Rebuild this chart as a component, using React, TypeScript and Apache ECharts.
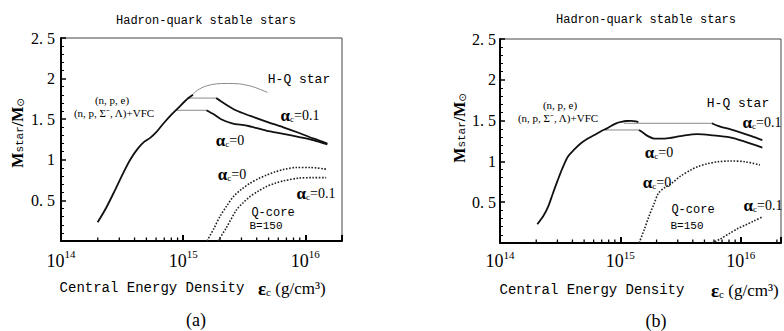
import React, { useEffect, useRef } from "react";
import * as echarts from "echarts";

// x values are log10(εc / g cm^-3), y values are M_star / M_sun
const xMajorExps = [14, 15, 16];
const minorFactors = [2, 3, 4, 5, 6, 7, 8, 9];
const yTicks = [0, 0.5, 1, 1.5, 2, 2.5];

// ---- panel (a) ----
const hadronA = [[14.30,0.23],[14.37,0.41],[14.44,0.62],[14.51,0.84],[14.57,1.01],[14.63,1.14],[14.68,1.22],[14.73,1.27],[14.78,1.34],[14.84,1.45],[14.90,1.55],[14.96,1.64],[15.02,1.73],[15.08,1.80]];
const hqA = [[15.06,1.78],[15.12,1.86],[15.19,1.91],[15.27,1.935],[15.36,1.94],[15.46,1.935],[15.57,1.90],[15.69,1.83]];
const plateau01A = [[15.035,1.76],[15.27,1.76]];
const branch01A = [[15.27,1.76],[15.34,1.69],[15.43,1.61],[15.55,1.54],[15.68,1.47],[15.82,1.40],[15.95,1.33],[16.07,1.26],[16.18,1.20]];
const plateau0A = [[14.94,1.61],[15.19,1.61]];
const branch0A = [[15.19,1.61],[15.25,1.56],[15.31,1.50],[15.40,1.45],[15.52,1.42],[15.68,1.36],[15.82,1.32],[15.95,1.28],[16.07,1.24],[16.18,1.19]];
const qcore0A = [[15.195,0],[15.25,0.15],[15.30,0.30],[15.36,0.44],[15.41,0.545],[15.48,0.64],[15.545,0.71],[15.62,0.77],[15.68,0.81],[15.75,0.85],[15.82,0.88],[15.925,0.905],[16.04,0.905],[16.17,0.885]];
const qcore01A = [[15.285,0],[15.35,0.155],[15.435,0.38],[15.49,0.47],[15.545,0.545],[15.61,0.61],[15.68,0.67],[15.75,0.71],[15.82,0.74],[15.95,0.775],[16.06,0.78],[16.17,0.78]];

// ---- panel (b) ----
const hadronB = [[14.31,0.23],[14.36,0.33],[14.40,0.445],[14.44,0.61],[14.48,0.77],[14.52,0.92],[14.565,1.06],[14.62,1.15],[14.67,1.22],[14.73,1.28],[14.78,1.32],[14.84,1.37],[14.89,1.405],[14.93,1.44],[14.97,1.47],[15.01,1.485],[15.05,1.495],[15.09,1.497],[15.13,1.49],[15.15,1.48]];
const plateau01B = [[15.03,1.467],[15.76,1.467]];
const branch01B = [[15.76,1.467],[15.83,1.425],[15.91,1.395],[15.99,1.36],[16.09,1.31],[16.18,1.26]];
const plateau0B = [[14.87,1.385],[15.155,1.385]];
const branch0B = [[15.155,1.385],[15.19,1.35],[15.23,1.31],[15.28,1.28],[15.37,1.28],[15.50,1.31],[15.64,1.335],[15.77,1.32],[15.91,1.295],[16.04,1.24],[16.18,1.17]];
const qcore0B = [[15.156,0],[15.20,0.17],[15.236,0.32],[15.28,0.48],[15.317,0.61],[15.37,0.68],[15.425,0.73],[15.50,0.82],[15.586,0.895],[15.65,0.94],[15.72,0.97],[15.81,0.995],[15.91,1.005],[16.04,0.995],[16.16,0.955]];
const qcore01B = [[15.76,0],[15.83,0.05],[15.91,0.12],[15.98,0.18],[16.04,0.22],[16.11,0.27],[16.18,0.32]];

const X_MAX_A = 16.3;
const X_MAX_B = 16.335;

const SERIF = "Liberation Serif";
const MONO = "Liberation Mono";

function minorTickData(max: number) {
  const out: number[][] = [];
  xMajorExps.forEach((d) => minorFactors.forEach((k) => {
    const v = d + Math.log10(k);
    if (v < max) out.push([v, 0]);
  }));
  return out;
}

function xAxisFor(gridIndex: number, max: number, margin: number) {
  return {
    type: "value", gridIndex, min: 14, max, interval: 1,
    axisLine: { show: true, onZero: false, lineStyle: { color: "#000", width: 2 } },
    axisTick: { show: true, inside: true, length: 6, lineStyle: { color: "#000", width: 2 } },
    splitLine: { show: false },
    axisLabel: {
      margin, color: "#000",
      formatter: (v: number) => (xMajorExps.includes(v) ? `{b|10}{s|${v}}` : ""),
      rich: {
        b: { fontFamily: SERIF, fontSize: 18, lineHeight: 18, padding: [6, 0, 0, 0], color: "#000" },
        s: { fontFamily: SERIF, fontSize: 11, lineHeight: 11, verticalAlign: "top", color: "#000" },
      },
    },
  };
}

function yAxisFor(gridIndex: number, margin: number) {
  return {
    type: "value", gridIndex, min: 0, max: 2.5, interval: 0.5,
    axisLine: { show: true, onZero: false, lineStyle: { color: "#000", width: 2 } },
    axisTick: { show: true, inside: true, length: 5, lineStyle: { color: "#000", width: 1.5 } },
    minorTick: { show: true, splitNumber: 5, length: 3, lineStyle: { color: "#000", width: 1 } },
    splitLine: { show: false },
    axisLabel: {
      margin, color: "#000", fontFamily: SERIF, fontSize: 16,
      formatter: (v: number) => {
        if (!yTicks.includes(v) || v === 0) return "";
        return Number.isInteger(v) ? String(v) : v.toFixed(1).replace(".", ". ");
      },
    },
  };
}

const thick = { color: "#111", width: 1.8 };
const thin = { color: "#8a8a8a", width: 1 };
const dotted = { color: "#222", width: 1.6, type: "dotted" };

function line(data: number[][], idx: number, style: any, smooth = 0.3) {
  return {
    type: "line", xAxisIndex: idx, yAxisIndex: idx, data, symbol: "none", showSymbol: false,
    smooth, lineStyle: style, silent: true,
  };
}

function minorTicks(idx: number, max: number) {
  return {
    type: "custom", xAxisIndex: idx, yAxisIndex: idx, data: minorTickData(max), clip: false, silent: true,
    renderItem: (_p: any, api: any) => {
      const pt = api.coord([api.value(0), 0]);
      return { type: "line", shape: { x1: pt[0], y1: pt[1], x2: pt[0], y2: pt[1] - 3.5 }, style: { stroke: "#000", lineWidth: 1.3 } };
    },
  };
}

function txt(text: string, x: number, y: number, fontFamily: string, fontSize: number, extra: any = {}) {
  return { type: "text", x, y, silent: true, style: { text, fontFamily, fontSize, fill: "#000", align: "center", verticalAlign: "middle", ...extra } };
}

function alpha(val: string, x: number, y: number) {
  return {
    type: "text", x, y, silent: true,
    style: {
      text: `{a|α}{c|c}{v|=${val}}`, align: "center", verticalAlign: "middle", fill: "#000",
      rich: {
        a: { fontFamily: SERIF, fontSize: 17, fontWeight: "bold", lineHeight: 16, fill: "#000" },
        c: { fontFamily: SERIF, fontSize: 9, lineHeight: 9, verticalAlign: "bottom", fill: "#000" },
        v: { fontFamily: SERIF, fontSize: 14, lineHeight: 16, fill: "#000" },
      },
    },
  };
}

function yName(x: number, y: number) {
  return {
    type: "text", x, y, rotation: Math.PI / 2, silent: true,
    style: {
      text: "{m|M}{s|star}{m|/M}{o|⊙}", align: "center", verticalAlign: "middle", fill: "#000",
      rich: {
        m: { fontFamily: SERIF, fontSize: 16, fontWeight: "bold", lineHeight: 16, fill: "#000" },
        s: { fontFamily: MONO, fontSize: 11, lineHeight: 10, verticalAlign: "bottom", fill: "#000" },
        o: { fontFamily: "DejaVu Sans", fontSize: 10, lineHeight: 10, verticalAlign: "bottom", fill: "#000" },
      },
    },
  };
}

function unit(x: number, y: number) {
  return {
    type: "text", x, y, silent: true,
    style: {
      text: "{e|ε}{c|c}{u| (g/cm³)}", align: "left", verticalAlign: "middle", fill: "#000",
      rich: {
        e: { fontFamily: SERIF, fontSize: 19, fontWeight: "bold", lineHeight: 18, fill: "#000" },
        c: { fontFamily: SERIF, fontSize: 11, lineHeight: 10, verticalAlign: "bottom", fill: "#000" },
        u: { fontFamily: SERIF, fontSize: 17, lineHeight: 18, fill: "#000" },
      },
    },
  };
}

const option: any = {
  animation: false,
  backgroundColor: "#fff",
  grid: [
    { left: 61, top: 38, width: 281, height: 203, show: true, borderColor: "#444", borderWidth: 1 },
    { left: 500, top: 39, width: 290, height: 204, show: true, borderColor: "#444", borderWidth: 1 },
  ],
  xAxis: [xAxisFor(0, X_MAX_A, 7.5), xAxisFor(1, X_MAX_B, 6)],
  yAxis: [yAxisFor(0, 6), yAxisFor(1, 4)],
  series: [
    minorTicks(0, X_MAX_A),
    line(hqA, 0, thin),
    line(plateau01A, 0, thin, 0),
    line(plateau0A, 0, thin, 0),
    line(hadronA, 0, thick),
    line(branch01A, 0, thick),
    line(branch0A, 0, thick),
    line(qcore0A, 0, dotted),
    line(qcore01A, 0, dotted),
    minorTicks(1, X_MAX_B),
    line(plateau01B, 1, thin, 0),
    line(plateau0B, 1, thin, 0),
    line(hadronB, 1, thick),
    line(branch01B, 1, thick),
    line(branch0B, 1, thick),
    line(qcore0B, 1, dotted),
    line(qcore01B, 1, dotted),
  ],
  graphic: [
    // panel (a)
    txt("Hadron-quark stable stars", 206, 21, MONO, 12),
    yName(17, 133),
    txt("Central Energy Density", 152, 288, MONO, 14),
    unit(258, 288),
    txt("(a)", 196, 320, SERIF, 18),
    txt("(n, p, e)", 112, 100, SERIF, 11),
    txt("(n, p, Σ⁻, Λ)+VFC", 114, 113, SERIF, 11),
    txt("H-Q star", 299, 79, MONO, 13),
    alpha("0.1", 300, 115),
    alpha("0", 230, 140),
    alpha("0", 232, 174),
    alpha("0.1", 316, 193),
    txt("Q-core", 273, 213, MONO, 12),
    txt("B=150", 266, 226, MONO, 11),
    // panel (b)
    txt("Hadron-quark stable stars", 646, 20, MONO, 12),
    yName(459, 128),
    txt("Central Energy Density", 592, 290, MONO, 14),
    unit(711, 290),
    txt("(b)", 656, 321, SERIF, 18),
    txt("(n, p, e)", 560, 105, SERIF, 11),
    txt("(n, p, Σ⁻, Λ)+VFC", 558, 118, SERIF, 11),
    txt("H-Q star", 738, 103, MONO, 13),
    alpha("0.1", 762, 122),
    alpha("0", 659, 152),
    alpha("0", 657, 182),
    txt("Q-core", 693, 210, MONO, 12),
    txt("B=150", 687, 226, MONO, 11),
    alpha("0.1", 763, 205),
  ],
};

export default function App() {
  const ref = useRef<HTMLDivElement>(null);
  useEffect(() => {
    const chart = echarts.init(ref.current as HTMLDivElement, null, { renderer: "svg" });
    chart.setOption(option);
    return () => chart.dispose();
  }, []);
  return (
    <div
      ref={ref}
      style={{ position: "fixed", left: 0, top: 0, width: 784, height: 331, background: "#fff" }}
    />
  );
}
